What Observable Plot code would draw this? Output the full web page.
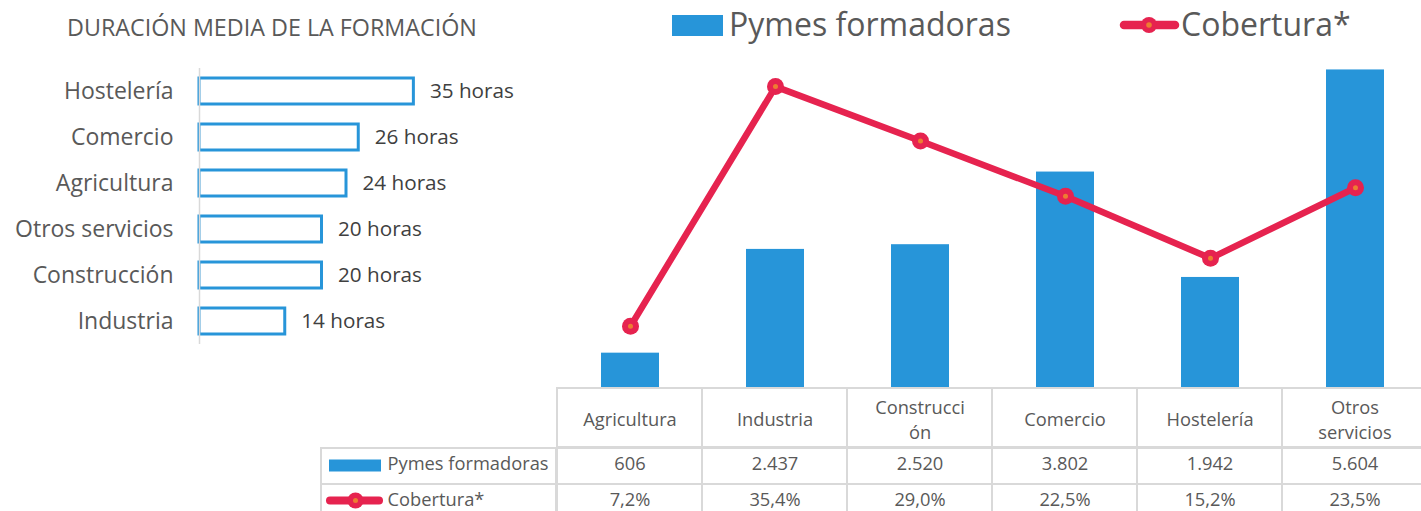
<!DOCTYPE html>
<html>
<head>
<meta charset="utf-8">
<script src="https://cdn.jsdelivr.net/npm/d3@7"></script>
<script src="https://cdn.jsdelivr.net/npm/@observablehq/plot@0.6"></script>
<style>
  html, body { margin: 0; padding: 0; background: #fff; }
  #root { position: relative; width: 1421px; height: 511px; overflow: hidden; font-family: "Open Sans", Lato, sans-serif; color: #595959; }
  .abs { position: absolute; }
  .abs svg { display: block; overflow: visible; max-width: none !important; }
</style>
</head>
<body>
<div id="root"></div>
<script>
// ---- data ----
const durCategories = ["Hostelería", "Comercio", "Agricultura", "Otros servicios", "Construcción", "Industria"];
const durHours = [35, 26, 24, 20, 20, 14];

const sectors = ["Agricultura", "Industria", "Construcción", "Comercio", "Hostelería", "Otros servicios"];
const sectorHeaderLabels = ["Agricultura", "Industria", "Construcci\nón", "Comercio", "Hostelería", "Otros\nservicios"];
const pymesFormadoras = [606, 2437, 2520, 3802, 1942, 5604];
const cobertura = [7.2, 35.4, 29.0, 22.5, 15.2, 23.5];
const seriesNames = ["Pymes formadoras", "Cobertura*"];

const titleText = "DURACIÓN MEDIA DE LA FORMACIÓN";

// ---- style ----
const BLUE = "#2795d9", RED = "#e6234f", ORANGE = "#ed7d31", GRID = "#d9d9d9", TXT = "#595959";
const FONT = "'Open Sans', Lato, sans-serif";
const TABLE_FS = 18.3;

const es = d3.formatLocale({decimal: ",", thousands: ".", grouping: [3], currency: ["", "€"]});
const fmtInt = es.format(",d");
const fmtPct = v => es.format(".1f")(v) + "%";

const root = document.getElementById("root");
function place(node, left, top) {
  const d = document.createElement("div");
  d.className = "abs"; d.style.left = left + "px"; d.style.top = top + "px";
  d.appendChild(node); root.appendChild(d); return d;
}

// ---- left chart: duración media ----
const durData = durCategories.map((c, i) => ({cat: c, h: durHours[i]}));
const title = document.createElement("div");
title.textContent = titleText;
title.style.cssText = `font-size:23.3px;line-height:1;color:${TXT};white-space:nowrap;`;
place(title, 67, 16);

place(Plot.plot({
  width: 560, height: 360,
  marginLeft: 199, marginRight: 116, marginTop: 68, marginBottom: 16,
  x: {domain: [0, 40], axis: null},
  y: {domain: durCategories, paddingInner: 0.44, paddingOuter: 0.2, label: null, tickSize: 0, tickPadding: 26},
  style: {fontFamily: FONT, fontSize: "23px", color: TXT, background: "transparent"},
  marks: [
    Plot.barX(durData, {y: "cat", x: "h", fill: "white", stroke: BLUE, strokeWidth: 3}),
    Plot.ruleX([0], {stroke: GRID, strokeWidth: 1.5}),
    Plot.text(durData, {y: "cat", x: "h", text: d => `${d.h} horas`, dx: 16, textAnchor: "start", fontSize: 20.7, fill: "#404040"})
  ]
}), 0, 0);

// ---- right chart: bars + line ----
const secData = sectors.map((s, i) => ({sector: s, pymes: pymesFormadoras[i], cob: cobertura[i]}));
const Y2 = 6000 / 40; // secondary axis 0–40 % mapped onto primary 0–6000
place(Plot.plot({
  width: 872, height: 388,
  marginLeft: 0, marginRight: 0, marginTop: 47, marginBottom: 1,
  x: {domain: sectors, paddingInner: 0.6, paddingOuter: 0.3, axis: null},
  y: {domain: [0, 6000], axis: null},
  style: {fontFamily: FONT, background: "transparent"},
  marks: [
    Plot.barY(secData, {x: "sector", y: "pymes", fill: BLUE}),
    Plot.line(secData, {x: "sector", y: d => d.cob * Y2, stroke: RED, strokeWidth: 6.5, strokeLinejoin: "round"}),
    Plot.dot(secData, {x: "sector", y: d => d.cob * Y2, r: 8.5, fill: RED}),
    Plot.dot(secData, {x: "sector", y: d => d.cob * Y2, r: 2.5, fill: ORANGE})
  ]
}), 556, 0);

// ---- top legend ----
function legendSwatch(kind) {
  const svg = d3.create("svg");
  if (kind === "bar") {
    svg.attr("width", 51).attr("height", 21);
    svg.append("rect").attr("x", 0).attr("y", 0).attr("width", 51).attr("height", 21).attr("fill", BLUE);
  } else {
    svg.attr("width", 70).attr("height", 30);
    svg.append("line").attr("x1", 10).attr("x2", 61).attr("y1", 15).attr("y2", 15)
      .attr("stroke", RED).attr("stroke-width", 8.5).attr("stroke-linecap", "round");
    svg.append("circle").attr("cx", 35).attr("cy", 15).attr("r", 8).attr("fill", RED);
    svg.append("circle").attr("cx", 35).attr("cy", 15).attr("r", 2.8).attr("fill", ORANGE);
  }
  return svg.node();
}
place(legendSwatch("bar"), 672, 15);
place(legendSwatch("line"), 1114, 10);
for (const [name, x] of [[seriesNames[0], 729], [seriesNames[1], 1181]]) {
  const t = document.createElement("div");
  t.textContent = name;
  t.style.cssText = `font-size:32px;color:${TXT};white-space:nowrap;line-height:1;`;
  place(t, x, 8);
}

// ---- data table: header row ----
place(Plot.plot({
  width: 874, height: 61, margin: 1,
  x: {domain: sectors, padding: 0, axis: null},
  style: {fontFamily: FONT, background: "transparent"},
  marks: [
    Plot.cell(sectors, {x: d => d, fill: "none", stroke: GRID, strokeWidth: 2}),
    Plot.text(sectors, {x: d => d, text: (d, i) => sectorHeaderLabels[i], fontSize: TABLE_FS, fill: TXT, lineHeight: 1.37})
  ]
}), 555, 387);

// ---- data table: body ----
const tableRows = [];
sectors.forEach((s, i) => {
  tableRows.push({sector: s, row: seriesNames[0], label: fmtInt(pymesFormadoras[i])});
  tableRows.push({sector: s, row: seriesNames[1], label: fmtPct(cobertura[i])});
});
place(Plot.plot({
  width: 874, height: 75, margin: 1,
  x: {domain: sectors, padding: 0, axis: null},
  y: {domain: seriesNames, padding: 0, axis: null},
  style: {fontFamily: FONT, background: "transparent"},
  marks: [
    Plot.cell(tableRows, {x: "sector", y: "row", fill: "none", stroke: GRID, strokeWidth: 2}),
    Plot.text(tableRows, {x: "sector", y: "row", text: "label", fontSize: TABLE_FS, fill: TXT, dy: -2})
  ]
}), 555, 446);

// ---- data table: row-label column with legend keys ----
place(Plot.plot({
  width: 237, height: 75, margin: 1,
  y: {domain: seriesNames, padding: 0, axis: null},
  style: {fontFamily: FONT, background: "transparent"},
  marks: [
    Plot.cell(seriesNames, {y: d => d, fill: "none", stroke: GRID, strokeWidth: 2}),
    Plot.ruleY([seriesNames[0]], {y: d => d, stroke: BLUE, strokeWidth: 12, insetLeft: 8, insetRight: 175, dy: -1}),
    Plot.ruleY([seriesNames[1]], {y: d => d, stroke: RED, strokeWidth: 8, strokeLinecap: "round", insetLeft: 9, insetRight: 177, dy: -2}),
    Plot.dot([seriesNames[1]], {y: d => d, frameAnchor: "left", dx: 34, dy: -2, r: 8, fill: RED}),
    Plot.dot([seriesNames[1]], {y: d => d, frameAnchor: "left", dx: 34, dy: -2, r: 2.5, fill: ORANGE}),
    Plot.text(seriesNames, {y: d => d, text: d => d, frameAnchor: "left", dx: 66, dy: -2, textAnchor: "start", fontSize: TABLE_FS, fill: TXT})
  ]
}), 320, 446);
</script>
</body>
</html>
